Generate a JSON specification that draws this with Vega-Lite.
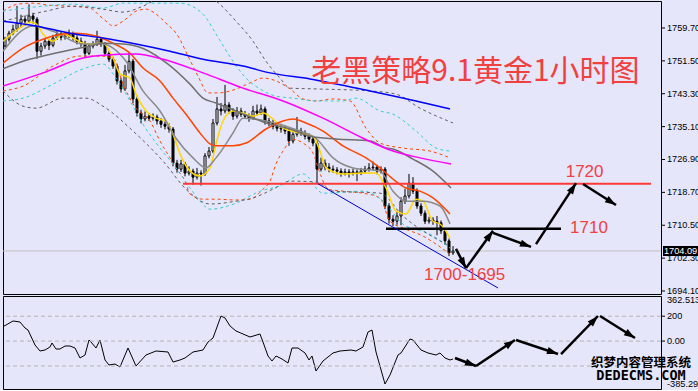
{
"$schema":"https://vega.github.io/schema/vega-lite/v6.json",
"background":"#e6e6fa",
"padding":0,
"spacing":2,
"bounds":"flush",
"config":{"view":{"stroke":"#000000","strokeWidth":1}},
"datasets":{
"k":[
{"i":0,"o":1755.2,"h":1757.5,"l":1754.8,"c":1756.9},
{"i":1,"o":1756.9,"h":1759.0,"l":1756.3,"c":1758.4},
{"i":2,"o":1758.4,"h":1760.5,"l":1757.9,"c":1759.4},
{"i":3,"o":1759.4,"h":1765.2,"l":1758.8,"c":1760.9},
{"i":4,"o":1760.9,"h":1763.0,"l":1759.9,"c":1761.9},
{"i":5,"o":1761.9,"h":1762.8,"l":1760.3,"c":1761.4},
{"i":6,"o":1761.4,"h":1765.6,"l":1760.9,"c":1762.7},
{"i":7,"o":1762.7,"h":1763.5,"l":1760.8,"c":1761.9},
{"i":8,"o":1761.9,"h":1762.4,"l":1752.0,"c":1753.9},
{"i":9,"o":1753.9,"h":1756.0,"l":1752.8,"c":1755.2},
{"i":10,"o":1755.2,"h":1757.2,"l":1754.5,"c":1756.4},
{"i":11,"o":1756.4,"h":1757.0,"l":1754.2,"c":1755.4},
{"i":12,"o":1755.4,"h":1758.0,"l":1754.9,"c":1757.2},
{"i":13,"o":1757.2,"h":1759.2,"l":1756.7,"c":1758.2},
{"i":14,"o":1758.2,"h":1758.9,"l":1756.6,"c":1757.4},
{"i":15,"o":1757.4,"h":1758.6,"l":1756.8,"c":1757.7},
{"i":16,"o":1757.7,"h":1759.3,"l":1757.2,"c":1758.2},
{"i":17,"o":1758.2,"h":1758.8,"l":1756.5,"c":1757.2},
{"i":18,"o":1757.2,"h":1757.9,"l":1755.6,"c":1756.4},
{"i":19,"o":1756.4,"h":1757.3,"l":1755.0,"c":1755.9},
{"i":20,"o":1755.9,"h":1756.5,"l":1752.5,"c":1753.4},
{"i":21,"o":1753.4,"h":1755.9,"l":1752.9,"c":1755.2},
{"i":22,"o":1755.2,"h":1756.4,"l":1754.6,"c":1755.7},
{"i":23,"o":1755.7,"h":1759.0,"l":1755.2,"c":1756.9},
{"i":24,"o":1756.9,"h":1757.5,"l":1755.0,"c":1755.7},
{"i":25,"o":1755.7,"h":1756.2,"l":1752.8,"c":1753.4},
{"i":26,"o":1753.4,"h":1754.0,"l":1751.2,"c":1751.9},
{"i":27,"o":1751.9,"h":1752.5,"l":1749.5,"c":1750.2},
{"i":28,"o":1750.2,"h":1750.8,"l":1745.6,"c":1746.5},
{"i":29,"o":1746.5,"h":1747.3,"l":1743.6,"c":1744.5},
{"i":30,"o":1744.5,"h":1750.5,"l":1744.0,"c":1749.0},
{"i":31,"o":1749.0,"h":1753.5,"l":1748.4,"c":1751.4},
{"i":32,"o":1751.4,"h":1752.0,"l":1741.0,"c":1742.0},
{"i":33,"o":1742.0,"h":1742.8,"l":1737.6,"c":1738.5},
{"i":34,"o":1738.5,"h":1739.3,"l":1735.9,"c":1737.0},
{"i":35,"o":1737.0,"h":1738.9,"l":1736.4,"c":1737.7},
{"i":36,"o":1737.7,"h":1738.5,"l":1736.5,"c":1737.2},
{"i":37,"o":1737.2,"h":1738.4,"l":1736.6,"c":1737.5},
{"i":38,"o":1737.5,"h":1738.1,"l":1735.6,"c":1736.5},
{"i":39,"o":1736.5,"h":1737.2,"l":1734.8,"c":1735.7},
{"i":40,"o":1735.7,"h":1736.4,"l":1734.4,"c":1735.2},
{"i":41,"o":1735.2,"h":1735.9,"l":1733.6,"c":1734.5},
{"i":42,"o":1734.5,"h":1735.0,"l":1725.2,"c":1726.0},
{"i":43,"o":1726.0,"h":1726.8,"l":1723.6,"c":1724.5},
{"i":44,"o":1724.5,"h":1726.8,"l":1723.8,"c":1725.8},
{"i":45,"o":1725.8,"h":1726.3,"l":1722.7,"c":1723.5},
{"i":46,"o":1723.5,"h":1725.2,"l":1722.9,"c":1724.0},
{"i":47,"o":1724.0,"h":1724.6,"l":1720.6,"c":1722.5},
{"i":48,"o":1722.5,"h":1724.8,"l":1721.9,"c":1723.5},
{"i":49,"o":1723.5,"h":1724.2,"l":1720.4,"c":1723.3},
{"i":50,"o":1723.3,"h":1728.5,"l":1722.8,"c":1727.8},
{"i":51,"o":1727.8,"h":1730.0,"l":1727.2,"c":1729.0},
{"i":52,"o":1729.0,"h":1737.0,"l":1728.5,"c":1736.0},
{"i":53,"o":1736.0,"h":1742.5,"l":1735.4,"c":1739.5},
{"i":54,"o":1739.5,"h":1741.0,"l":1737.9,"c":1739.0},
{"i":55,"o":1739.0,"h":1745.5,"l":1738.4,"c":1740.5},
{"i":56,"o":1740.5,"h":1741.2,"l":1738.3,"c":1739.0},
{"i":57,"o":1739.0,"h":1739.7,"l":1736.8,"c":1737.7},
{"i":58,"o":1737.7,"h":1740.0,"l":1737.1,"c":1739.0},
{"i":59,"o":1739.0,"h":1739.8,"l":1737.5,"c":1738.2},
{"i":60,"o":1738.2,"h":1739.0,"l":1737.0,"c":1737.7},
{"i":61,"o":1737.7,"h":1738.4,"l":1736.3,"c":1737.2},
{"i":62,"o":1737.2,"h":1740.3,"l":1736.8,"c":1739.0},
{"i":63,"o":1739.0,"h":1740.6,"l":1737.9,"c":1738.5},
{"i":64,"o":1738.5,"h":1740.6,"l":1738.0,"c":1739.5},
{"i":65,"o":1739.5,"h":1740.1,"l":1735.6,"c":1736.5},
{"i":66,"o":1736.5,"h":1737.3,"l":1735.2,"c":1736.0},
{"i":67,"o":1736.0,"h":1736.8,"l":1734.4,"c":1735.2},
{"i":68,"o":1735.2,"h":1735.9,"l":1733.9,"c":1734.7},
{"i":69,"o":1734.7,"h":1735.8,"l":1733.6,"c":1734.5},
{"i":70,"o":1734.5,"h":1735.3,"l":1733.2,"c":1734.0},
{"i":71,"o":1734.0,"h":1734.6,"l":1730.3,"c":1731.5},
{"i":72,"o":1731.5,"h":1733.9,"l":1730.9,"c":1733.2},
{"i":73,"o":1733.2,"h":1737.5,"l":1732.6,"c":1734.0},
{"i":74,"o":1734.0,"h":1734.8,"l":1732.8,"c":1733.5},
{"i":75,"o":1733.5,"h":1734.2,"l":1731.9,"c":1732.7},
{"i":76,"o":1732.7,"h":1733.4,"l":1731.2,"c":1732.0},
{"i":77,"o":1732.0,"h":1732.8,"l":1730.2,"c":1731.0},
{"i":78,"o":1731.0,"h":1731.6,"l":1721.0,"c":1724.5},
{"i":79,"o":1724.5,"h":1727.4,"l":1723.9,"c":1726.0},
{"i":80,"o":1726.0,"h":1726.9,"l":1724.2,"c":1725.0},
{"i":81,"o":1725.0,"h":1726.0,"l":1723.7,"c":1724.5},
{"i":82,"o":1724.5,"h":1725.4,"l":1723.6,"c":1724.3},
{"i":83,"o":1724.3,"h":1725.0,"l":1723.2,"c":1724.0},
{"i":84,"o":1724.0,"h":1724.7,"l":1722.6,"c":1723.5},
{"i":85,"o":1723.5,"h":1724.6,"l":1722.9,"c":1723.8},
{"i":86,"o":1723.8,"h":1724.5,"l":1722.4,"c":1723.5},
{"i":87,"o":1723.5,"h":1724.6,"l":1722.9,"c":1723.8},
{"i":88,"o":1723.8,"h":1724.4,"l":1721.5,"c":1723.5},
{"i":89,"o":1723.5,"h":1724.8,"l":1723.0,"c":1724.0},
{"i":90,"o":1724.0,"h":1725.3,"l":1723.5,"c":1724.5},
{"i":91,"o":1724.5,"h":1726.0,"l":1723.9,"c":1724.8},
{"i":92,"o":1724.8,"h":1726.4,"l":1724.2,"c":1725.0},
{"i":93,"o":1725.0,"h":1725.6,"l":1723.2,"c":1724.0},
{"i":94,"o":1724.0,"h":1725.2,"l":1723.4,"c":1724.5},
{"i":95,"o":1724.5,"h":1725.0,"l":1714.5,"c":1715.3},
{"i":96,"o":1715.3,"h":1716.0,"l":1710.9,"c":1712.0},
{"i":97,"o":1712.0,"h":1713.0,"l":1710.3,"c":1711.5},
{"i":98,"o":1711.5,"h":1713.8,"l":1710.6,"c":1712.8},
{"i":99,"o":1712.8,"h":1717.5,"l":1710.5,"c":1716.5},
{"i":100,"o":1716.5,"h":1719.6,"l":1715.8,"c":1717.8},
{"i":101,"o":1717.8,"h":1723.3,"l":1717.2,"c":1721.0},
{"i":102,"o":1721.0,"h":1722.5,"l":1718.3,"c":1719.0},
{"i":103,"o":1719.0,"h":1719.7,"l":1714.6,"c":1715.3},
{"i":104,"o":1715.3,"h":1716.0,"l":1712.8,"c":1713.5},
{"i":105,"o":1713.5,"h":1714.2,"l":1710.8,"c":1711.5},
{"i":106,"o":1711.5,"h":1712.6,"l":1710.9,"c":1711.8},
{"i":107,"o":1711.8,"h":1712.5,"l":1710.6,"c":1711.5},
{"i":108,"o":1711.5,"h":1712.8,"l":1708.0,"c":1711.1},
{"i":109,"o":1711.1,"h":1711.7,"l":1708.3,"c":1709.1},
{"i":110,"o":1709.1,"h":1709.6,"l":1705.6,"c":1706.6},
{"i":111,"o":1706.6,"h":1707.2,"l":1702.8,"c":1703.6},
{"i":112,"o":1703.6,"h":1705.3,"l":1703.1,"c":1704.09}
],
"ma":[
{"s":"yl","x":-0.5,"y":1756.4},{"s":"yl","x":4.5,"y":1760.2},{"s":"yl","x":6.25,"y":1761.2},{"s":"yl","x":7.75,"y":1760.8},{"s":"yl","x":9.5,"y":1758.2},{"s":"yl","x":12,"y":1756.4},{"s":"yl","x":14.5,"y":1758.2},{"s":"yl","x":17,"y":1757.2},{"s":"yl","x":19.5,"y":1755.9},{"s":"yl","x":22,"y":1755.7},{"s":"yl","x":24.5,"y":1755.9},{"s":"yl","x":27,"y":1752.2},{"s":"yl","x":28.75,"y":1748.2},{"s":"yl","x":31.25,"y":1747.2},{"s":"yl","x":32.75,"y":1743.2},{"s":"yl","x":35.25,"y":1739.0},{"s":"yl","x":37.75,"y":1737.2},{"s":"yl","x":40.25,"y":1736.5},{"s":"yl","x":42,"y":1733.2},{"s":"yl","x":43.75,"y":1728.3},{"s":"yl","x":46.25,"y":1724.0},{"s":"yl","x":48.75,"y":1722.8},{"s":"yl","x":51.25,"y":1724.8},{"s":"yl","x":52.75,"y":1730.8},{"s":"yl","x":54.5,"y":1736.5},{"s":"yl","x":57,"y":1739.0},{"s":"yl","x":59.5,"y":1738.5},{"s":"yl","x":62,"y":1737.7},{"s":"yl","x":64.5,"y":1738.5},{"s":"yl","x":67,"y":1737.0},{"s":"yl","x":69.5,"y":1734.7},{"s":"yl","x":73.75,"y":1733.5},{"s":"yl","x":77,"y":1732.7},{"s":"yl","x":78.75,"y":1729.0},{"s":"yl","x":80.25,"y":1724.8},{"s":"yl","x":84.5,"y":1723.3},{"s":"yl","x":90.25,"y":1723.5},{"s":"yl","x":92.75,"y":1723.5},{"s":"yl","x":95.25,"y":1719.8},{"s":"yl","x":97.75,"y":1714.0},{"s":"yl","x":100.25,"y":1713.3},{"s":"yl","x":102.75,"y":1717.0},{"s":"yl","x":104.5,"y":1716.5},{"s":"yl","x":107,"y":1711.5},{"s":"yl","x":108.75,"y":1710.8},{"s":"yl","x":111.25,"y":1707.3},
{"s":"tg","x":-0.5,"y":1753.9},{"s":"tg","x":7,"y":1760.2},{"s":"tg","x":12,"y":1758.9},{"s":"tg","x":19.5,"y":1755.7},{"s":"tg","x":24.5,"y":1755.7},{"s":"tg","x":27,"y":1754.7},{"s":"tg","x":30.25,"y":1751.4},{"s":"tg","x":34.5,"y":1744.0},{"s":"tg","x":38.75,"y":1739.0},{"s":"tg","x":42.75,"y":1732.2},{"s":"tg","x":47,"y":1727.3},{"s":"tg","x":50.25,"y":1724.8},{"s":"tg","x":52.75,"y":1727.3},{"s":"tg","x":57,"y":1733.5},{"s":"tg","x":59.5,"y":1737.2},{"s":"tg","x":65.25,"y":1736.5},{"s":"tg","x":73.75,"y":1734.0},{"s":"tg","x":77.75,"y":1732.2},{"s":"tg","x":82,"y":1727.3},{"s":"tg","x":87,"y":1724.8},{"s":"tg","x":93.75,"y":1724.0},{"s":"tg","x":97,"y":1719.0},{"s":"tg","x":100.25,"y":1716.5},{"s":"tg","x":104.5,"y":1716.5},{"s":"tg","x":108.75,"y":1715.3},{"s":"tg","x":111.25,"y":1710.8},
{"s":"or","x":-0.5,"y":1750.9},{"s":"or","x":4.5,"y":1754.7},{"s":"or","x":9.5,"y":1756.9},{"s":"or","x":14.5,"y":1758.2},{"s":"or","x":17.75,"y":1758.4},{"s":"or","x":22.75,"y":1757.7},{"s":"or","x":27,"y":1755.9},{"s":"or","x":31.25,"y":1753.4},{"s":"or","x":34.5,"y":1749.7},{"s":"or","x":38.75,"y":1746.5},{"s":"or","x":42,"y":1742.2},{"s":"or","x":45.25,"y":1738.2},{"s":"or","x":48.75,"y":1733.5},{"s":"or","x":51.25,"y":1730.8},{"s":"or","x":52.75,"y":1730.3},{"s":"or","x":57,"y":1730.3},{"s":"or","x":60.25,"y":1731.0},{"s":"or","x":65.25,"y":1734.5},{"s":"or","x":69.5,"y":1736.5},{"s":"or","x":72,"y":1737.0},{"s":"or","x":75.25,"y":1736.0},{"s":"or","x":79.5,"y":1734.0},{"s":"or","x":84.5,"y":1730.3},{"s":"or","x":90.25,"y":1727.3},{"s":"or","x":93.75,"y":1724.8},{"s":"or","x":97,"y":1722.0},{"s":"or","x":100.25,"y":1719.8},{"s":"or","x":103.75,"y":1719.0},{"s":"or","x":107,"y":1717.3},{"s":"or","x":111.25,"y":1713.3},
{"s":"dg","x":-0.5,"y":1749.5},{"s":"dg","x":4.5,"y":1751.4},{"s":"dg","x":9.5,"y":1752.7},{"s":"dg","x":16.25,"y":1754.2},{"s":"dg","x":21.25,"y":1755.2},{"s":"dg","x":24.5,"y":1755.9},{"s":"dg","x":29.5,"y":1755.7},{"s":"dg","x":34.5,"y":1754.6},{"s":"dg","x":40.75,"y":1750.7},{"s":"dg","x":46.25,"y":1745.7},{"s":"dg","x":49.5,"y":1742.2},{"s":"dg","x":52.75,"y":1741.0},{"s":"dg","x":57.75,"y":1739.0},{"s":"dg","x":66.25,"y":1735.7},{"s":"dg","x":71.25,"y":1734.5},{"s":"dg","x":76.25,"y":1732.7},{"s":"dg","x":82.75,"y":1732.0},{"s":"dg","x":91.25,"y":1731.5},{"s":"dg","x":95.25,"y":1729.8},{"s":"dg","x":97,"y":1729.5},{"s":"dg","x":102,"y":1727.0},{"s":"dg","x":107,"y":1724.0},{"s":"dg","x":111.5,"y":1719.8},
{"s":"mg","x":-0.5,"y":1745.2},{"s":"mg","x":9.5,"y":1748.5},{"s":"mg","x":19.5,"y":1752.2},{"s":"mg","x":24.5,"y":1752.9},{"s":"mg","x":32.75,"y":1753.2},{"s":"mg","x":39.5,"y":1751.9},{"s":"mg","x":49.5,"y":1748.5},{"s":"mg","x":59.5,"y":1744.7},{"s":"mg","x":69.5,"y":1741.5},{"s":"mg","x":79.5,"y":1737.2},{"s":"mg","x":89.5,"y":1732.2},{"s":"mg","x":97,"y":1729.0},{"s":"mg","x":103.75,"y":1727.3},{"s":"mg","x":111.5,"y":1725.8},
{"s":"bl","x":-0.5,"y":1761.4},{"s":"bl","x":7.75,"y":1760.2},{"s":"bl","x":16.25,"y":1758.4},{"s":"bl","x":24.5,"y":1757.2},{"s":"bl","x":32.75,"y":1755.7},{"s":"bl","x":41.25,"y":1753.9},{"s":"bl","x":49.5,"y":1751.9},{"s":"bl","x":59.5,"y":1750.2},{"s":"bl","x":66.25,"y":1748.5},{"s":"bl","x":76.25,"y":1747.0},{"s":"bl","x":91.25,"y":1744.0},{"s":"bl","x":102.75,"y":1741.5},{"s":"bl","x":111.25,"y":1739.5}
],
"bd":[
{"s":"ru","x":-0.5,"y":1763.9},{"s":"ru","x":3.25,"y":1765.65},{"s":"ru","x":7,"y":1765.9},{"s":"ru","x":10.75,"y":1765.4},{"s":"ru","x":15.75,"y":1765.15},{"s":"ru","x":21.25,"y":1764.65},{"s":"ru","x":23.75,"y":1762.66},{"s":"ru","x":25.25,"y":1761.4},{"s":"ru","x":27,"y":1760.2},{"s":"ru","x":29.5,"y":1761.4},{"s":"ru","x":32.75,"y":1763.9},{"s":"ru","x":35.25,"y":1764.4},{"s":"ru","x":37.75,"y":1763.16},{"s":"ru","x":40.25,"y":1760.9},{"s":"ru","x":43.25,"y":1757.7},{"s":"ru","x":45.75,"y":1752.7},{"s":"ru","x":48.25,"y":1747.7},{"s":"ru","x":50.75,"y":1743.5},{"s":"ru","x":53.25,"y":1743.5},{"s":"ru","x":57,"y":1744.2},{"s":"ru","x":61.25,"y":1746.0},{"s":"ru","x":64.5,"y":1747.2},{"s":"ru","x":67.75,"y":1746.5},{"s":"ru","x":71.25,"y":1744.5},{"s":"ru","x":74.5,"y":1742.0},{"s":"ru","x":77.75,"y":1741.5},{"s":"ru","x":82,"y":1742.0},{"s":"ru","x":86.25,"y":1741.5},{"s":"ru","x":90.25,"y":1734.7},{"s":"ru","x":93.75,"y":1731.0},{"s":"ru","x":99.5,"y":1729.75},{"s":"ru","x":106.25,"y":1729.0},{"s":"ru","x":111.25,"y":1727.3},
{"s":"rl","x":-0.5,"y":1744.0},{"s":"rl","x":4.5,"y":1745.2},{"s":"rl","x":12,"y":1750.2},{"s":"rl","x":18.75,"y":1752.7},{"s":"rl","x":23.75,"y":1752.7},{"s":"rl","x":27,"y":1752.2},{"s":"rl","x":29.5,"y":1745.7},{"s":"rl","x":32.75,"y":1739.7},{"s":"rl","x":36.25,"y":1736.5},{"s":"rl","x":38.75,"y":1731.5},{"s":"rl","x":41.25,"y":1727.3},{"s":"rl","x":42.75,"y":1724.8},{"s":"rl","x":45,"y":1721.5},{"s":"rl","x":46.25,"y":1718.3},{"s":"rl","x":49.5,"y":1717.0},{"s":"rl","x":52.75,"y":1717.0},{"s":"rl","x":57.75,"y":1716.8},{"s":"rl","x":61.25,"y":1717.0},{"s":"rl","x":64.5,"y":1719.5},{"s":"rl","x":66.25,"y":1721.5},{"s":"rl","x":67.75,"y":1725.8},{"s":"rl","x":69.5,"y":1729.0},{"s":"rl","x":72,"y":1731.9},{"s":"rl","x":74.5,"y":1731.0},{"s":"rl","x":77,"y":1728.5},{"s":"rl","x":79,"y":1722.8},{"s":"rl","x":80.75,"y":1719.5},{"s":"rl","x":84.5,"y":1719.0},{"s":"rl","x":89.5,"y":1718.5},{"s":"rl","x":93.75,"y":1717.3},{"s":"rl","x":96.25,"y":1711.5},{"s":"rl","x":99.5,"y":1709.8},{"s":"rl","x":104.5,"y":1707.8},{"s":"rl","x":107.75,"y":1705.8},{"s":"rl","x":111.25,"y":1703.3},
{"s":"cu","x":-0.5,"y":1763.9},{"s":"cu","x":9.5,"y":1765.15},{"s":"cu","x":17,"y":1765.65},{"s":"cu","x":24.5,"y":1764.65},{"s":"cu","x":29.5,"y":1765.9},{"s":"cu","x":43.75,"y":1765.9},{"s":"cu","x":49.5,"y":1763.16},{"s":"cu","x":52.75,"y":1758.2},{"s":"cu","x":57,"y":1751.4},{"s":"cu","x":60.25,"y":1747.2},{"s":"cu","x":63.75,"y":1744.5},{"s":"cu","x":67.75,"y":1742.7},{"s":"cu","x":72,"y":1742.2},{"s":"cu","x":77.75,"y":1741.5},{"s":"cu","x":84.5,"y":1741.5},{"s":"cu","x":87.75,"y":1742.2},{"s":"cu","x":93.75,"y":1739.0},{"s":"cu","x":97,"y":1738.2},{"s":"cu","x":102.75,"y":1734.0},{"s":"cu","x":107.75,"y":1729.75},{"s":"cu","x":111.25,"y":1729.0},
{"s":"cl","x":-0.5,"y":1741.5},{"s":"cl","x":4.5,"y":1742.2},{"s":"cl","x":12,"y":1745.7},{"s":"cl","x":19.5,"y":1749.5},{"s":"cl","x":24.5,"y":1750.7},{"s":"cl","x":27.75,"y":1747.2},{"s":"cl","x":31.25,"y":1741.5},{"s":"cl","x":34.5,"y":1735.7},{"s":"cl","x":38.75,"y":1729.75},{"s":"cl","x":42.75,"y":1724.8},{"s":"cl","x":46.25,"y":1719.8},{"s":"cl","x":48.75,"y":1716.5},{"s":"cl","x":51.25,"y":1714.5},{"s":"cl","x":57.75,"y":1716.0},{"s":"cl","x":63.75,"y":1719.0},{"s":"cl","x":68.75,"y":1720.3},{"s":"cl","x":74.5,"y":1723.3},{"s":"cl","x":79.5,"y":1718.5},{"s":"cl","x":89.5,"y":1719.0},{"s":"cl","x":94.5,"y":1716.5},{"s":"cl","x":99.5,"y":1710.8},{"s":"cl","x":106.25,"y":1708.3},{"s":"cl","x":111.25,"y":1704.8},
{"s":"gu","x":-0.5,"y":1761.4},{"s":"gu","x":10.25,"y":1763.9},{"s":"gu","x":17,"y":1765.15},{"s":"gu","x":24.5,"y":1764.4},{"s":"gu","x":29.5,"y":1763.66},{"s":"gu","x":34.5,"y":1765.15},{"s":"gu","x":39.5,"y":1767.65},{"s":"gu","x":47,"y":1768.9},{"s":"gu","x":52.75,"y":1766.4},{"s":"gu","x":57.75,"y":1761.4},{"s":"gu","x":62,"y":1756.4},{"s":"gu","x":65.25,"y":1751.4},{"s":"gu","x":68.75,"y":1747.2},{"s":"gu","x":71.25,"y":1744.7},{"s":"gu","x":77.75,"y":1744.5},{"s":"gu","x":91.25,"y":1744.0},{"s":"gu","x":97.75,"y":1743.2},{"s":"gu","x":103.75,"y":1739.7},{"s":"gu","x":112,"y":1736.0},
{"s":"gl","x":-0.5,"y":1744.0},{"s":"gl","x":4.5,"y":1740.2},{"s":"gl","x":7.75,"y":1739.7},{"s":"gl","x":14.5,"y":1742.2},{"s":"gl","x":20.25,"y":1742.2},{"s":"gl","x":24.5,"y":1740.2},{"s":"gl","x":32,"y":1734.0},{"s":"gl","x":39.5,"y":1726.5},{"s":"gl","x":45.75,"y":1719.0},{"s":"gl","x":51.25,"y":1715.8},{"s":"gl","x":57.75,"y":1716.5},{"s":"gl","x":62,"y":1717.3},{"s":"gl","x":67,"y":1719.5},{"s":"gl","x":71.25,"y":1721.5},{"s":"gl","x":77.75,"y":1721.3},{"s":"gl","x":82,"y":1719.0},{"s":"gl","x":93.75,"y":1718.5},{"s":"gl","x":99.5,"y":1712.8},{"s":"gl","x":111.25,"y":1705.3}
],
"cci":[
{"x":-0.5,"v":115.6},{"x":2,"v":161.5},{"x":3.75,"v":153.4},{"x":5,"v":105.2},{"x":5.75,"v":89.1},{"x":7.5,"v":-31.5},{"x":8.75,"v":-79.8},{"x":10,"v":-71.7},{"x":11.25,"v":-47.6},{"x":11.75,"v":-15.4},{"x":12.75,"v":-63.7},{"x":13.75,"v":-63.7},{"x":15,"v":-39.6},{"x":16.25,"v":-39.6},{"x":17.5,"v":-55.6},{"x":18.75,"v":-136},{"x":20,"v":-111.9},{"x":21,"v":8.7},{"x":21.5,"v":-7.4},{"x":22.75,"v":-55.6},{"x":23.75,"v":8.7},{"x":25,"v":-152.1},{"x":26,"v":-192.3},{"x":27.5,"v":-184.3},{"x":28.75,"v":-208.4},{"x":30.75,"v":-55.6},{"x":32.75,"v":-200.4},{"x":35.25,"v":-111.9},{"x":37.75,"v":-79.8},{"x":40.75,"v":-87.8},{"x":42,"v":-168.2},{"x":43.75,"v":-152.1},{"x":45,"v":-136},{"x":47,"v":-87.8},{"x":49.5,"v":-71.7},{"x":50.75,"v":-7.4},{"x":52,"v":24.8},{"x":54,"v":201.7},{"x":55,"v":185.6},{"x":56.25,"v":121.3},{"x":57.75,"v":81.1},{"x":61.25,"v":32.8},{"x":63.75,"v":56.9},{"x":64.5,"v":-7.4},{"x":65.75,"v":-120},{"x":66.75,"v":-160.2},{"x":67.75,"v":-120},{"x":69.25,"v":-144.1},{"x":70.75,"v":-176.2},{"x":71.75,"v":-55.6},{"x":73.25,"v":-55.6},{"x":75,"v":-95.8},{"x":76,"v":-152.1},{"x":76.75,"v":-120},{"x":77.75,"v":-240.6},{"x":79.5,"v":-160.2},{"x":82,"v":-95.8},{"x":83.75,"v":-79.8},{"x":86.5,"v":-71.7},{"x":87.75,"v":-79.8},{"x":89.5,"v":-47.6},{"x":90.75,"v":73},{"x":91.75,"v":89.1},{"x":92.75,"v":-87.8},{"x":95,"v":-345.1},{"x":96.25,"v":-272.7},{"x":98.25,"v":-111.9},{"x":99,"v":-95.8},{"x":101.25,"v":16.7},{"x":102,"v":8.7},{"x":104,"v":-71.7},{"x":105.75,"v":-95.8},{"x":107.75,"v":-111.9},{"x":108.75,"v":-95.8},{"x":110,"v":-136},{"x":111.25,"v":-152.1},{"x":112,"v":-144.1}
],
"arr":[
{"x":112.75,"y":1704.6,"x2":115.25,"y2":1699.8,"a":152},
{"x":115.25,"y":1699.8,"x2":122,"y2":1709.1,"a":36},
{"x":122,"y":1708.6,"x2":131.5,"y2":1705.1,"a":110},
{"x":132.75,"y":1705.8,"x2":142.75,"y2":1721.0,"a":33},
{"x":144.5,"y":1720.8,"x2":152.75,"y2":1715.55,"a":122}
],
"arr2":[
{"x":112.5,"y":-136,"x2":117.75,"y2":-200.4,"a":111},
{"x":117.75,"y":-200.4,"x2":127.5,"y2":8.7,"a":56},
{"x":127.75,"y":8.7,"x2":138.25,"y2":-103.9,"a":108},
{"x":139,"y":-103.9,"x2":148.25,"y2":201.7,"a":44},
{"x":148.75,"y":201.7,"x2":157.5,"y2":24.8,"a":122}
],
"grid":[{"g":200},{"g":0},{"g":-200}],
"yt":[{"v":1694.1},{"v":1702.3},{"v":1710.5},{"v":1718.7},{"v":1726.9},{"v":1735.1},{"v":1743.3},{"v":1751.5},{"v":1759.7}],
"ct":[{"v":200,"t":"200"},{"v":0,"t":"0.00"}]
},
"vconcat":[
{"width":658,"height":293,
"resolve":{"scale":{"color":"independent","strokeWidth":"independent"}},
"layer":[
{"data":{"name":"k"},"mark":{"type":"rule","color":"#000000","strokeWidth":1},"encoding":{
"x":{"field":"i","type":"quantitative","scale":{"domain":[-0.5,164],"nice":false,"zero":false,"padding":0},"axis":null},
"y":{"field":"l","type":"quantitative","scale":{"domain":[1693.35,1766.43],"nice":false,"zero":false},"axis":null},
"y2":{"field":"h"}}},
{"data":{"values":[{}]},"mark":{"type":"rule","color":"#c0c0c0","strokeWidth":1},"encoding":{"y":{"datum":1704.09,"type":"quantitative","axis":null}}},
{"data":{"name":"k"},"mark":{"type":"bar","size":2,"stroke":"#000000","strokeWidth":1},"encoding":{
"x":{"field":"i","type":"quantitative","scale":{"domain":[-0.5,164],"nice":false,"zero":false,"padding":0},"axis":null},
"y":{"field":"o","type":"quantitative","axis":null},
"y2":{"field":"c"},
"fill":{"condition":{"test":"datum.c < datum.o","value":"#000000"},"value":"#ffffff"}}},
{"data":{"name":"bd"},"mark":{"type":"line","strokeWidth":1,"strokeDash":[3,3],"clip":true,"interpolate":"monotone"},"encoding":{
"x":{"field":"x","type":"quantitative","axis":null},
"y":{"field":"y","type":"quantitative","axis":null},
"color":{"field":"s","type":"nominal","scale":{"domain":["ru","rl","cu","cl","gu","gl"],"range":["#ff4500","#ff4500","#30d0d0","#30d0d0","#606060","#606060"]},"legend":null}}},
{"data":{"name":"ma"},"mark":{"type":"line","clip":true,"interpolate":"monotone"},"encoding":{
"x":{"field":"x","type":"quantitative","axis":null},
"y":{"field":"y","type":"quantitative","axis":null},
"color":{"field":"s","type":"nominal","scale":{"domain":["bl","mg","dg","or","tg","yl"],"range":["#0000ff","#ff00ff","#707070","#ff4500","#8a8a8a","#ffd700"]},"legend":null},
"strokeWidth":{"field":"s","type":"ordinal","scale":{"domain":["bl","mg","dg","or","tg","yl"],"range":[1.5,1.5,3.5,3.5,1,1.2]},"legend":null}}},
{"data":{"values":[{}]},"mark":{"type":"rule","color":"#ff3838","strokeWidth":2},"encoding":{"x":{"datum":44.5,"type":"quantitative","axis":null},"x2":{"datum":161.5},"y":{"datum":1720.85,"type":"quantitative","axis":null}}},
{"data":{"values":[{}]},"mark":{"type":"rule","color":"#000000","strokeWidth":2.5},"encoding":{"x":{"datum":95.25,"type":"quantitative","axis":null},"x2":{"datum":139},"y":{"datum":1709.6,"type":"quantitative","axis":null}}},
{"data":{"values":[{}]},"mark":{"type":"rule","color":"#0000cc","strokeWidth":1},"encoding":{"x":{"datum":78.25,"type":"quantitative","axis":null},"x2":{"datum":123.25},"y":{"datum":1720.85,"type":"quantitative","axis":null},"y2":{"datum":1694.85}}},
{"data":{"name":"arr"},"mark":{"type":"rule","color":"#000000","strokeWidth":2.5},"encoding":{"x":{"field":"x","type":"quantitative","axis":null},"y":{"field":"y","type":"quantitative","axis":null},"x2":{"field":"x2"},"y2":{"field":"y2"}}},
{"data":{"name":"arr"},"mark":{"type":"point","shape":"M0,0L0.6,1.8L-0.6,1.8Z","filled":true,"color":"#000000","size":150,"opacity":1},"encoding":{"x":{"field":"x2","type":"quantitative","axis":null},"y":{"field":"y2","type":"quantitative","axis":null},"angle":{"field":"a","type":"quantitative","scale":null}}},
{"data":{"values":[{}]},"mark":{"type":"text","text":"老黑策略9.1黄金1小时图","font":"Noto Sans CJK SC","fontSize":30,"color":"#f04040","align":"center","baseline":"middle"},"encoding":{"x":{"datum":117.6,"type":"quantitative","axis":null},"y":{"datum":1748.6,"type":"quantitative","axis":null}}},
{"data":{"values":[{}]},"mark":{"type":"text","text":"1720","font":"Liberation Sans","fontSize":17,"color":"#f04040","align":"center","baseline":"middle"},"encoding":{"x":{"datum":144.9,"type":"quantitative","axis":null},"y":{"datum":1723.78,"type":"quantitative","axis":null}}},
{"data":{"values":[{}]},"mark":{"type":"text","text":"1710","font":"Liberation Sans","fontSize":17,"color":"#f04040","align":"center","baseline":"middle"},"encoding":{"x":{"datum":146,"type":"quantitative","axis":null},"y":{"datum":1709.69,"type":"quantitative","axis":null}}},
{"data":{"values":[{}]},"mark":{"type":"text","text":"1700-1695","font":"Liberation Sans","fontSize":17,"color":"#f04040","align":"center","baseline":"middle"},"encoding":{"x":{"datum":114.9,"type":"quantitative","axis":null},"y":{"datum":1698.2,"type":"quantitative","axis":null}}},
{"data":{"name":"yt"},"mark":{"type":"rule","color":"#000000","strokeWidth":1},"encoding":{"x":{"datum":164,"type":"quantitative","axis":null},"x2":{"datum":165},"y":{"field":"v","type":"quantitative","axis":null}}},
{"data":{"name":"yt"},"mark":{"type":"text","font":"Liberation Sans","fontSize":9.2,"color":"#000000","align":"left","baseline":"middle"},"encoding":{"x":{"datum":165.5,"type":"quantitative","axis":null},"y":{"field":"v","type":"quantitative","axis":null},"text":{"field":"v","type":"quantitative","format":".2f"}}},
{"data":{"values":[{}]},"mark":{"type":"rect","color":"#000000"},"encoding":{"x":{"datum":164.5,"type":"quantitative","axis":null},"x2":{"datum":174},"y":{"datum":1702.8,"type":"quantitative","axis":null},"y2":{"datum":1705.35}}},
{"data":{"values":[{}]},"mark":{"type":"text","text":"1704.09","font":"Liberation Sans","fontSize":9.2,"color":"#ffffff","align":"left","baseline":"middle"},"encoding":{"x":{"datum":164.75,"type":"quantitative","axis":null},"y":{"datum":1704.09,"type":"quantitative","axis":null}}}
]},
{"width":658,"height":93,
"layer":[
{"data":{"name":"cci"},"mark":{"type":"line","color":"#000000","strokeWidth":1},"encoding":{
"x":{"field":"x","type":"quantitative","scale":{"domain":[-0.5,164],"nice":false,"zero":false,"padding":0},"axis":null},
"y":{"field":"v","type":"quantitative","scale":{"domain":[-385.294,362.5133],"nice":false,"zero":false},"axis":null}}},
{"data":{"name":"grid"},"mark":{"type":"rule","color":"#b4b4b4","strokeDash":[4,3],"strokeWidth":1},"encoding":{"y":{"field":"g","type":"quantitative","axis":null}}},
{"data":{"name":"arr2"},"mark":{"type":"rule","color":"#000000","strokeWidth":2.5},"encoding":{"x":{"field":"x","type":"quantitative","axis":null},"y":{"field":"y","type":"quantitative","axis":null},"x2":{"field":"x2"},"y2":{"field":"y2"}}},
{"data":{"name":"arr2"},"mark":{"type":"point","shape":"M0,0L0.6,1.8L-0.6,1.8Z","filled":true,"color":"#000000","size":150,"opacity":1},"encoding":{"x":{"field":"x2","type":"quantitative","axis":null},"y":{"field":"y2","type":"quantitative","axis":null},"angle":{"field":"a","type":"quantitative","scale":null}}},
{"data":{"name":"ct"},"mark":{"type":"rule","color":"#000000","strokeWidth":1},"encoding":{"x":{"datum":164,"type":"quantitative","axis":null},"x2":{"datum":165},"y":{"field":"v","type":"quantitative","axis":null}}},
{"data":{"name":"ct"},"mark":{"type":"text","font":"Liberation Sans","fontSize":9.2,"color":"#000000","align":"left","baseline":"middle"},"encoding":{"x":{"datum":165.5,"type":"quantitative","axis":null},"y":{"field":"v","type":"quantitative","axis":null},"text":{"field":"t","type":"nominal"}}},
{"data":{"values":[{}]},"mark":{"type":"text","text":"362.5133","font":"Liberation Sans","fontSize":9.2,"color":"#000000","align":"left","baseline":"top"},"encoding":{"x":{"datum":165.5,"type":"quantitative","axis":null},"y":{"datum":362.5133,"type":"quantitative","axis":null}}},
{"data":{"values":[{}]},"mark":{"type":"text","text":"-385.294","font":"Liberation Sans","fontSize":9.2,"color":"#000000","align":"left","baseline":"bottom"},"encoding":{"x":{"datum":165.5,"type":"quantitative","axis":null},"y":{"datum":-385.294,"type":"quantitative","axis":null}}},
{"data":{"values":[{}]},"mark":{"type":"text","text":"织梦内容管理系统","font":"Noto Sans CJK SC","fontSize":12.5,"fontWeight":"bold","color":"#000000","align":"center","baseline":"middle"},"encoding":{"x":{"datum":159,"type":"quantitative","axis":null},"y":{"datum":-176,"type":"quantitative","axis":null}}},
{"data":{"values":[{}]},"mark":{"type":"text","text":"DEDECMS.COM","font":"DejaVu Sans Mono","fontSize":13.5,"fontWeight":"bold","color":"#000000","align":"center","baseline":"middle"},"encoding":{"x":{"datum":159,"type":"quantitative","axis":null},"y":{"datum":-281,"type":"quantitative","axis":null}}}
]}
]
}
